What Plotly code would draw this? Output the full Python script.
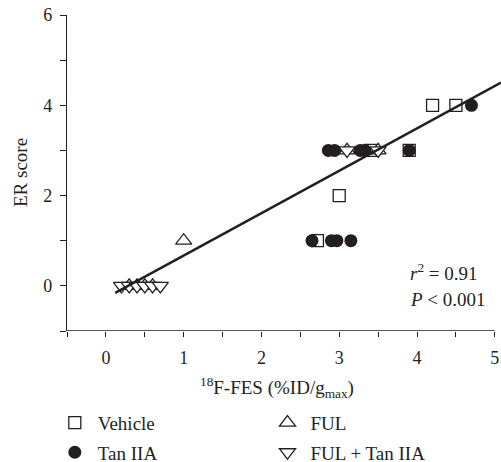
import plotly.graph_objects as go

# ---- data ----
vehicle_x = [2.72, 3.0, 3.4, 3.9, 4.2, 4.5]
vehicle_y = [1, 2, 3, 3, 4, 4]

ful_x = [0.3, 0.4, 0.5, 0.6, 1.0, 3.1, 3.5]
ful_y = [0, 0, 0, 0, 1, 3, 3]

tan_x = [2.65, 2.9, 2.97, 3.15, 2.86, 2.94, 3.27, 3.33, 3.9, 4.7]
tan_y = [1, 1, 1, 1, 3, 3, 3, 3, 3, 4]

fultan_x = [0.2, 0.3, 0.4, 0.5, 0.6, 0.7, 3.1, 3.5]
fultan_y = [0, 0, 0, 0, 0, 0, 3, 3]

fit_slope = 0.94
fit_intercept = -0.27
fit_x = [0.12, 5.08]
fit_y = [fit_slope * v + fit_intercept for v in fit_x]

x_tick_vals = [-0.5, 0, 0.5, 1, 1.5, 2, 2.5, 3, 3.5, 4, 4.5, 5]
x_tick_text = ["", "0", "", "1", "", "2", "", "3", "", "4", "", "5"]
y_tick_vals = [-1, 0, 1, 2, 3, 4, 5, 6]
y_tick_text = ["", "0", "", "2", "", "4", "", "6"]

INK = "#231f20"
FONT = "Liberation Serif"

fig = go.Figure()

fig.add_trace(go.Scatter(
    x=vehicle_x, y=vehicle_y, mode="markers", name="Vehicle",
    marker=dict(symbol="square", size=12, color="white", line=dict(color=INK, width=1.3)),
    legend="legend", legendgroup="a",
))
fig.add_trace(go.Scatter(
    x=ful_x, y=ful_y, mode="markers", name="FUL",
    marker=dict(symbol="triangle-up", size=14, color="white", line=dict(color=INK, width=1.3)),
    legend="legend2", legendgroup="c",
))
fig.add_trace(go.Scatter(
    x=tan_x, y=tan_y, mode="markers", name="Tan IIA",
    marker=dict(symbol="circle", size=13, color=INK, line=dict(color=INK, width=0)),
    legend="legend", legendgroup="b",
))
fig.add_trace(go.Scatter(
    x=fultan_x, y=fultan_y, mode="markers", name="FUL + Tan IIA",
    marker=dict(symbol="triangle-down", size=14, color="white", line=dict(color=INK, width=1.3)),
    legend="legend2", legendgroup="d",
))
fig.add_trace(go.Scatter(
    x=fit_x, y=fit_y, mode="lines", showlegend=False,
    line=dict(color=INK, width=2.5),
))

# x-axis line from -0.5 to 5 only
fig.add_shape(type="line", xref="x", yref="y", x0=-0.5, x1=5, y0=-1, y1=-1,
              line=dict(color=INK, width=1.3))

fig.add_annotation(x=2.2, xref="x", y=-0.18, yref="paper",
                   text="<sup>18</sup>F-FES (%ID/g<sub>max</sub>)", showarrow=False,
                   font=dict(family=FONT, size=19, color=INK), xanchor="center", yanchor="middle")
fig.add_annotation(x=0, xref="paper", xshift=-47, y=0.5, yref="paper",
                   text="ER score", textangle=-90, showarrow=False,
                   font=dict(family=FONT, size=19, color=INK), xanchor="center", yanchor="middle")
fig.add_annotation(x=3.88, xref="x", y=0.31, yref="y", text="<i>r</i><sup>2</sup> = 0.91",
                   showarrow=False, xanchor="left", yanchor="middle",
                   font=dict(family=FONT, size=19, color=INK))
fig.add_annotation(x=3.88, xref="x", y=-0.31, yref="y", text="<i>P</i> &lt; 0.001",
                   showarrow=False, xanchor="left", yanchor="middle",
                   font=dict(family=FONT, size=19, color=INK))

legend_common = dict(
    orientation="v", xanchor="left", yanchor="top", y=-0.23,
    font=dict(family=FONT, size=19, color=INK), bgcolor="rgba(0,0,0,0)",
    tracegroupgap=2, itemsizing="trace", itemwidth=36,
)

fig.update_layout(
    width=501, height=462,
    margin=dict(l=67, r=0, t=15, b=131, autoexpand=False),
    paper_bgcolor="white", plot_bgcolor="white",
    font=dict(family=FONT, size=18, color=INK),
    showlegend=True,
    legend=dict(x=-0.035, **legend_common),
    legend2=dict(x=0.455, **legend_common),
    xaxis=dict(range=[-0.5, 5.08], showgrid=False, zeroline=False, showline=False,
               automargin=False,
               tickmode="array", tickvals=x_tick_vals, ticktext=x_tick_text,
               ticks="outside", ticklen=5, tickwidth=1.3, tickcolor=INK,
               ticklabelstandoff=5, tickfont=dict(family=FONT, size=18, color=INK)),
    yaxis=dict(range=[-1, 6], showgrid=False, zeroline=False, showline=True,
               automargin=False,
               linecolor=INK, linewidth=1.3,
               tickmode="array", tickvals=y_tick_vals, ticktext=y_tick_text,
               ticks="outside", ticklen=6, tickwidth=1.3, tickcolor=INK,
               ticklabelstandoff=4, tickfont=dict(family=FONT, size=18, color=INK)),
)

fig.write_html("out.html", config={"displayModeBar": False},
               post_script="document.body.style.margin='0';")
